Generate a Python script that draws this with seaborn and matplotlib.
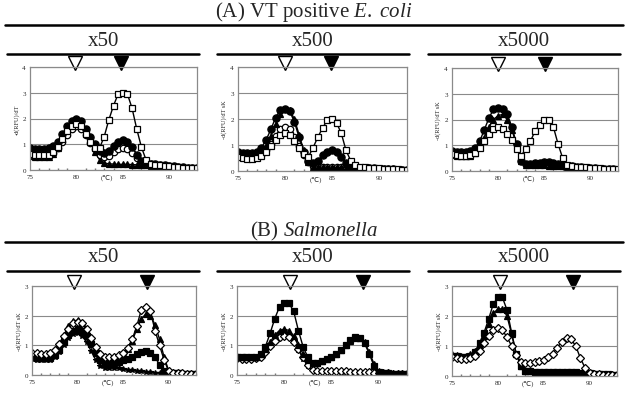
import matplotlib
matplotlib.use("Agg")
import matplotlib.pyplot as plt
import seaborn as sns

# melting temperature grid (deg C)
temps = [75.0, 75.5, 76.0, 76.5, 77.0, 77.5, 78.0, 78.5, 79.0, 79.5, 80.0, 80.5,
         81.0, 81.5, 82.0, 82.5, 83.0, 83.5, 84.0, 84.5, 85.0, 85.5, 86.0, 86.5,
         87.0, 87.5, 88.0, 88.5, 89.0, 89.5, 90.0, 90.5, 91.0, 91.5, 92.0, 92.5, 93.0]

# (A) VT positive E. coli
a1_sq = [0.62, 0.6, 0.58, 0.58, 0.6, 0.7, 0.9, 1.2, 1.5, 1.7, 1.8, 1.7, 1.4, 1.1, 0.85, 0.85,
         1.3, 1.95, 2.5, 2.95, 3.0, 2.95, 2.4, 1.6, 0.9, 0.4, 0.25, 0.2, 0.18, 0.16, 0.14, 0.12, 0.1, 0.09, 0.08, 0.07, 0.06]
a1_circ = [0.85, 0.83, 0.82, 0.82, 0.85, 0.92, 1.1, 1.4, 1.7, 1.9, 2.0, 1.9, 1.6, 1.3, 1.0, 0.75,
           0.65, 0.75, 0.95, 1.1, 1.15, 1.1, 0.9, 0.6, 0.35, 0.28, 0.25, 0.22, 0.2, 0.18, 0.16, 0.14, 0.12, 0.1, 0.08, 0.07, 0.06]
a1_oc = [0.6, 0.58, 0.55, 0.55, 0.58, 0.65, 0.85, 1.1, 1.35, 1.6, 1.7, 1.6, 1.35, 1.05, 0.8, 0.6,
         0.5, 0.55, 0.7, 0.82, 0.85, 0.8, 0.65, 0.45, 0.3, 0.25, 0.22, 0.2, 0.18, 0.16, 0.14, 0.12, 0.1, 0.09, 0.08, 0.07, 0.06]
a1_tri = [0.55, 0.52, 0.5, 0.5, 0.52, 0.62, 0.85, 1.2, 1.55, 1.8, 1.9, 1.8, 1.5, 1.1, 0.7, 0.4,
          0.27, 0.24, 0.23, 0.22, 0.22, 0.22, 0.21, 0.2, 0.19, 0.18, 0.17, 0.16, 0.15, 0.14, 0.13, 0.12, 0.11, 0.1, 0.09, 0.08, 0.07]

a2_sq = [0.52, 0.5, 0.48, 0.48, 0.5, 0.58, 0.75, 0.95, 1.2, 1.38, 1.45, 1.38, 1.15, 0.9, 0.65, 0.55,
         0.9, 1.3, 1.65, 1.95, 2.0, 1.85, 1.45, 0.8, 0.4, 0.22, 0.16, 0.14, 0.12, 0.11, 0.1, 0.09, 0.08, 0.07, 0.06, 0.05, 0.05]
a2_circ = [0.72, 0.7, 0.7, 0.7, 0.75, 0.9, 1.2, 1.6, 2.05, 2.35, 2.4, 2.3, 1.9, 1.3, 0.75, 0.4,
           0.3, 0.4, 0.6, 0.75, 0.8, 0.75, 0.55, 0.3, 0.18, 0.15, 0.13, 0.12, 0.11, 0.1, 0.09, 0.08, 0.07, 0.06, 0.05, 0.05, 0.04]
a2_oc = [0.58, 0.55, 0.53, 0.53, 0.55, 0.62, 0.8, 1.05, 1.35, 1.6, 1.7, 1.6, 1.3, 0.95, 0.6, 0.35,
         0.2, 0.16, 0.15, 0.15, 0.15, 0.14, 0.14, 0.13, 0.13, 0.12, 0.11, 0.1, 0.1, 0.09, 0.08, 0.07, 0.06, 0.06, 0.05, 0.05, 0.04]
a2_tri = [0.62, 0.6, 0.6, 0.6, 0.62, 0.72, 0.95, 1.35, 1.8, 2.2, 2.4, 2.35, 2.0, 1.4, 0.8, 0.35,
          0.17, 0.15, 0.15, 0.15, 0.15, 0.14, 0.14, 0.13, 0.13, 0.12, 0.11, 0.1, 0.1, 0.09, 0.08, 0.07, 0.06, 0.06, 0.05, 0.05, 0.04]

a3_sq = [0.65, 0.62, 0.6, 0.6, 0.62, 0.7, 0.9, 1.15, 1.45, 1.65, 1.7, 1.65, 1.45, 1.2, 0.85, 0.6,
         0.85, 1.15, 1.55, 1.8, 2.0, 2.0, 1.7, 1.05, 0.5, 0.25, 0.2, 0.17, 0.15, 0.14, 0.12, 0.11, 0.1, 0.09, 0.08, 0.07, 0.06]
a3_circ = [0.78, 0.75, 0.74, 0.74, 0.78, 0.9, 1.15, 1.6, 2.05, 2.4, 2.45, 2.4, 2.2, 1.7, 1.05, 0.4,
           0.27, 0.28, 0.3, 0.33, 0.35, 0.34, 0.3, 0.26, 0.23, 0.2, 0.18, 0.16, 0.15, 0.13, 0.12, 0.1, 0.09, 0.08, 0.07, 0.06, 0.05]
a3_tri = [0.62, 0.6, 0.58, 0.58, 0.6, 0.7, 0.95, 1.3, 1.7, 2.0, 2.15, 2.2, 2.0, 1.6, 1.0, 0.4,
          0.25, 0.23, 0.22, 0.22, 0.22, 0.21, 0.2, 0.19, 0.18, 0.17, 0.16, 0.15, 0.14, 0.13, 0.12, 0.1, 0.09, 0.08, 0.07, 0.06, 0.05]

# (B) Salmonella
b1_dia = [0.75, 0.74, 0.72, 0.72, 0.75, 0.85, 1.05, 1.3, 1.55, 1.75, 1.8, 1.75, 1.55, 1.25, 0.95, 0.72,
          0.62, 0.6, 0.62, 0.66, 0.75, 0.9, 1.2, 1.65, 2.2, 2.3, 2.15, 1.5, 1.0, 0.5, 0.13, 0.08, 0.07, 0.06, 0.05, 0.05, 0.04]
b1_tri = [0.72, 0.7, 0.7, 0.7, 0.72, 0.82, 1.05, 1.35, 1.65, 1.82, 1.85, 1.75, 1.5, 1.2, 0.92, 0.72,
          0.62, 0.6, 0.62, 0.66, 0.74, 0.88, 1.15, 1.55, 1.9, 2.05, 2.0, 1.7, 1.2, 0.6, 0.15, 0.08, 0.07, 0.06, 0.05, 0.05, 0.04]
b1_fsq = [0.6, 0.58, 0.56, 0.56, 0.58, 0.66, 0.85, 1.1, 1.35, 1.5, 1.55, 1.48, 1.3, 1.05, 0.75, 0.52,
          0.42, 0.4, 0.42, 0.45, 0.5, 0.55, 0.62, 0.72, 0.78, 0.8, 0.75, 0.6, 0.35, 0.12, 0.08, 0.07, 0.06, 0.05, 0.05, 0.04, 0.04]
b1_x = [0.55, 0.52, 0.5, 0.5, 0.52, 0.6, 0.78, 1.0, 1.25, 1.38, 1.4, 1.32, 1.1, 0.8, 0.5, 0.3,
        0.25, 0.24, 0.23, 0.22, 0.2, 0.18, 0.16, 0.14, 0.12, 0.1, 0.09, 0.08, 0.08, 0.07, 0.07, 0.06, 0.06, 0.05, 0.05, 0.04, 0.04]

b2_fsq = [0.62, 0.6, 0.6, 0.6, 0.62, 0.72, 0.95, 1.4, 1.9, 2.3, 2.42, 2.42, 2.15, 1.5, 0.95, 0.6,
          0.4, 0.42, 0.48, 0.55, 0.62, 0.72, 0.84, 1.0, 1.18, 1.27, 1.24, 1.07, 0.72, 0.31, 0.1, 0.07, 0.06, 0.05, 0.05, 0.04, 0.04]
b2_tri = [0.65, 0.62, 0.6, 0.6, 0.62, 0.7, 0.88, 1.1, 1.35, 1.5, 1.55, 1.5, 1.3, 1.0, 0.72, 0.5,
          0.4, 0.42, 0.48, 0.55, 0.62, 0.72, 0.84, 1.0, 1.15, 1.25, 1.25, 1.1, 0.78, 0.38, 0.12, 0.07, 0.06, 0.05, 0.05, 0.04, 0.04]
b2_dia = [0.58, 0.55, 0.55, 0.55, 0.56, 0.62, 0.78, 0.98, 1.15, 1.27, 1.3, 1.28, 1.12, 0.88, 0.6, 0.35,
          0.18, 0.15, 0.14, 0.14, 0.13, 0.13, 0.12, 0.12, 0.11, 0.1, 0.1, 0.09, 0.09, 0.08, 0.07, 0.06, 0.06, 0.05, 0.05, 0.04, 0.04]
b2_x = [0.62, 0.6, 0.58, 0.58, 0.6, 0.68, 0.85, 1.05, 1.25, 1.38, 1.4, 1.35, 1.15, 0.85, 0.55, 0.3,
        0.16, 0.14, 0.13, 0.13, 0.12, 0.12, 0.11, 0.11, 0.1, 0.1, 0.09, 0.09, 0.08, 0.08, 0.07, 0.06, 0.06, 0.05, 0.05, 0.04, 0.04]

b3_fsq = [0.68, 0.66, 0.64, 0.64, 0.68, 0.8, 1.1, 1.45, 1.9, 2.4, 2.62, 2.62, 2.2, 1.45, 0.75, 0.35,
          0.17, 0.16, 0.15, 0.15, 0.15, 0.15, 0.14, 0.14, 0.13, 0.13, 0.12, 0.12, 0.11, 0.1, 0.09, 0.08, 0.07, 0.06, 0.06, 0.05, 0.05]
b3_tri = [0.72, 0.7, 0.68, 0.68, 0.72, 0.82, 1.05, 1.35, 1.75, 2.1, 2.22, 2.25, 2.0, 1.4, 0.75, 0.32,
          0.18, 0.16, 0.15, 0.15, 0.15, 0.14, 0.14, 0.14, 0.13, 0.13, 0.12, 0.12, 0.11, 0.1, 0.09, 0.08, 0.07, 0.06, 0.06, 0.05, 0.05]
b3_dia = [0.62, 0.6, 0.58, 0.58, 0.6, 0.68, 0.85, 1.1, 1.35, 1.55, 1.6, 1.52, 1.3, 1.0, 0.7, 0.48,
          0.45, 0.45, 0.47, 0.5, 0.55, 0.62, 0.75, 0.95, 1.15, 1.27, 1.22, 1.0, 0.6, 0.28, 0.1, 0.07, 0.06, 0.05, 0.05, 0.04, 0.04]

dilutions = ["x50", "x500", "x5000"]
a_peaks = [(79.8, 84.8), (80.0, 84.9), (80.0, 85.1)]
b_peaks = [(79.6, 87.6), (80.6, 88.3), (80.2, 88.2)]

sns.set_theme(style="white")
plt.rcParams["font.family"] = ["Liberation Serif", "DejaVu Sans"]
plt.rcParams["mathtext.fontset"] = "custom"
plt.rcParams["mathtext.rm"] = "Liberation Serif"
plt.rcParams["mathtext.it"] = "Liberation Serif:italic"

W, H = 628, 410
fig = plt.figure(figsize=(W / 100, H / 100), dpi=100)

# marker styles: (marker, face, size)
SQ_OPEN = ("s", "white", 4.8)
CIRC = ("o", "black", 5.2)
CIRC_OPEN = ("o", "white", 4.6)
TRI = ("^", "black", 4.4)
FSQ = ("s", "black", 4.2)
DIA = ("D", "white", 4.2)
CROSS = ("*", "black", 3.8)

panels_a = [
    [(a1_tri, TRI), (a1_oc, CIRC_OPEN), (a1_circ, CIRC), (a1_sq, SQ_OPEN)],
    [(a2_oc, CIRC_OPEN), (a2_tri, TRI), (a2_circ, CIRC), (a2_sq, SQ_OPEN)],
    [(a3_tri, TRI), (a3_circ, CIRC), (a3_sq, SQ_OPEN)],
]
panels_b = [
    [(b1_x, CROSS), (b1_fsq, FSQ), (b1_tri, TRI), (b1_dia, DIA)],
    [(b2_x, CROSS), (b2_dia, DIA), (b2_tri, TRI), (b2_fsq, FSQ)],
    [(b3_tri, TRI), (b3_fsq, FSQ), (b3_dia, DIA)],
]

boxes_a = [(30, 68, 197, 171), (238, 68, 407, 172), (452, 69, 618, 172)]
boxes_b = [(32, 287, 196, 376), (237, 287, 407, 376), (452, 287, 617, 377)]
ylabels_a = ["-d(RFU)/dT", "-d(RFU)/dT sK", "-d(RFU)/dT sK"]
ylabels_b = ["-d(RFU)/dT sK", "-d(RFU)/dT sK", "-d(RFU)/dT sK"]


def fig_line(x0, x1, y, lw=2.0):
    fig.add_artist(plt.Line2D([x0 / W, x1 / W], [1 - y / H, 1 - y / H],
                              transform=fig.transFigure, color="black", lw=lw))


def draw_panel(box, series, ymax, peaks, ylabel):
    l, t, r, b = box
    ax = fig.add_axes([l / W, 1 - b / H, (r - l) / W, (b - t) / H])
    for vals, (m, fc, ms) in series:
        sns.lineplot(x=temps, y=vals, ax=ax, color="black", marker=m, markersize=ms,
                     markerfacecolor=fc, markeredgecolor="black", markeredgewidth=0.9,
                     linewidth=1.0, estimator=None, sort=False)
    ax.set_xlim(75, 93)
    ax.set_ylim(0, ymax)
    ax.set_xticks([75, 80, 85, 90])
    ax.set_yticks(range(ymax + 1))
    ax.set_xticks(range(75, 94), minor=True)
    ax.tick_params(axis="both", which="major", labelsize=5, length=2, direction="in",
                   pad=3, color="#777777")
    ax.tick_params(axis="x", which="minor", length=1.5, direction="in", color="#777777",
                   bottom=True)
    ax.yaxis.grid(True, color="#8a8a8a", lw=0.8)
    ax.set_axisbelow(True)
    for s in ax.spines.values():
        s.set_color("#8a8a8a")
        s.set_linewidth(0.9)
    ax.set_xlabel("")
    ax.set_ylabel(ylabel, fontsize=4.5, labelpad=2)
    ax.text(83.3, -0.04, "(\u2103)", transform=ax.get_xaxis_transform(), fontsize=5,
            ha="center", va="top")
    # peak markers: open = non-specific, filled = target product
    ax.plot([peaks[0]], [1.04], marker="v", ms=9.5, mfc="white", mec="black", mew=1.0,
            transform=ax.get_xaxis_transform(), clip_on=False)
    ax.plot([peaks[1]], [1.04], marker="v", ms=9.5, mfc="black", mec="black", mew=1.0,
            transform=ax.get_xaxis_transform(), clip_on=False)
    return ax


# section (A)
fig.text(0.5, 1 - 12 / H, r"(A) VT positive $\mathit{E.\ coli}$", ha="center", va="center", fontsize=15)
fig_line(5, 623, 26, lw=1.8)
col_spans = [(7, 199), (217, 409), (428, 620)]
for (x0, x1), name in zip(col_spans, dilutions):
    fig.text((x0 + x1) / 2 / W, 1 - 42 / H, name, ha="center", va="center", fontsize=15)
    fig_line(x0, x1, 55, lw=1.8)
for box, ser, pk, yl in zip(boxes_a, panels_a, a_peaks, ylabels_a):
    draw_panel(box, ser, 4, pk, yl)

# section (B)
fig.text(0.5, 1 - 231 / H, r"(B) $\mathit{Salmonella}$", ha="center", va="center", fontsize=15)
fig_line(5, 623, 243, lw=1.8)
for (x0, x1), name in zip(col_spans, dilutions):
    fig.text((x0 + x1) / 2 / W, 1 - 257 / H, name, ha="center", va="center", fontsize=15)
    fig_line(x0, x1, 272, lw=1.8)
for box, ser, pk, yl in zip(boxes_b, panels_b, b_peaks, ylabels_b):
    draw_panel(box, ser, 3, pk, yl)

fig.savefig("out.png", dpi=100, facecolor="white")
